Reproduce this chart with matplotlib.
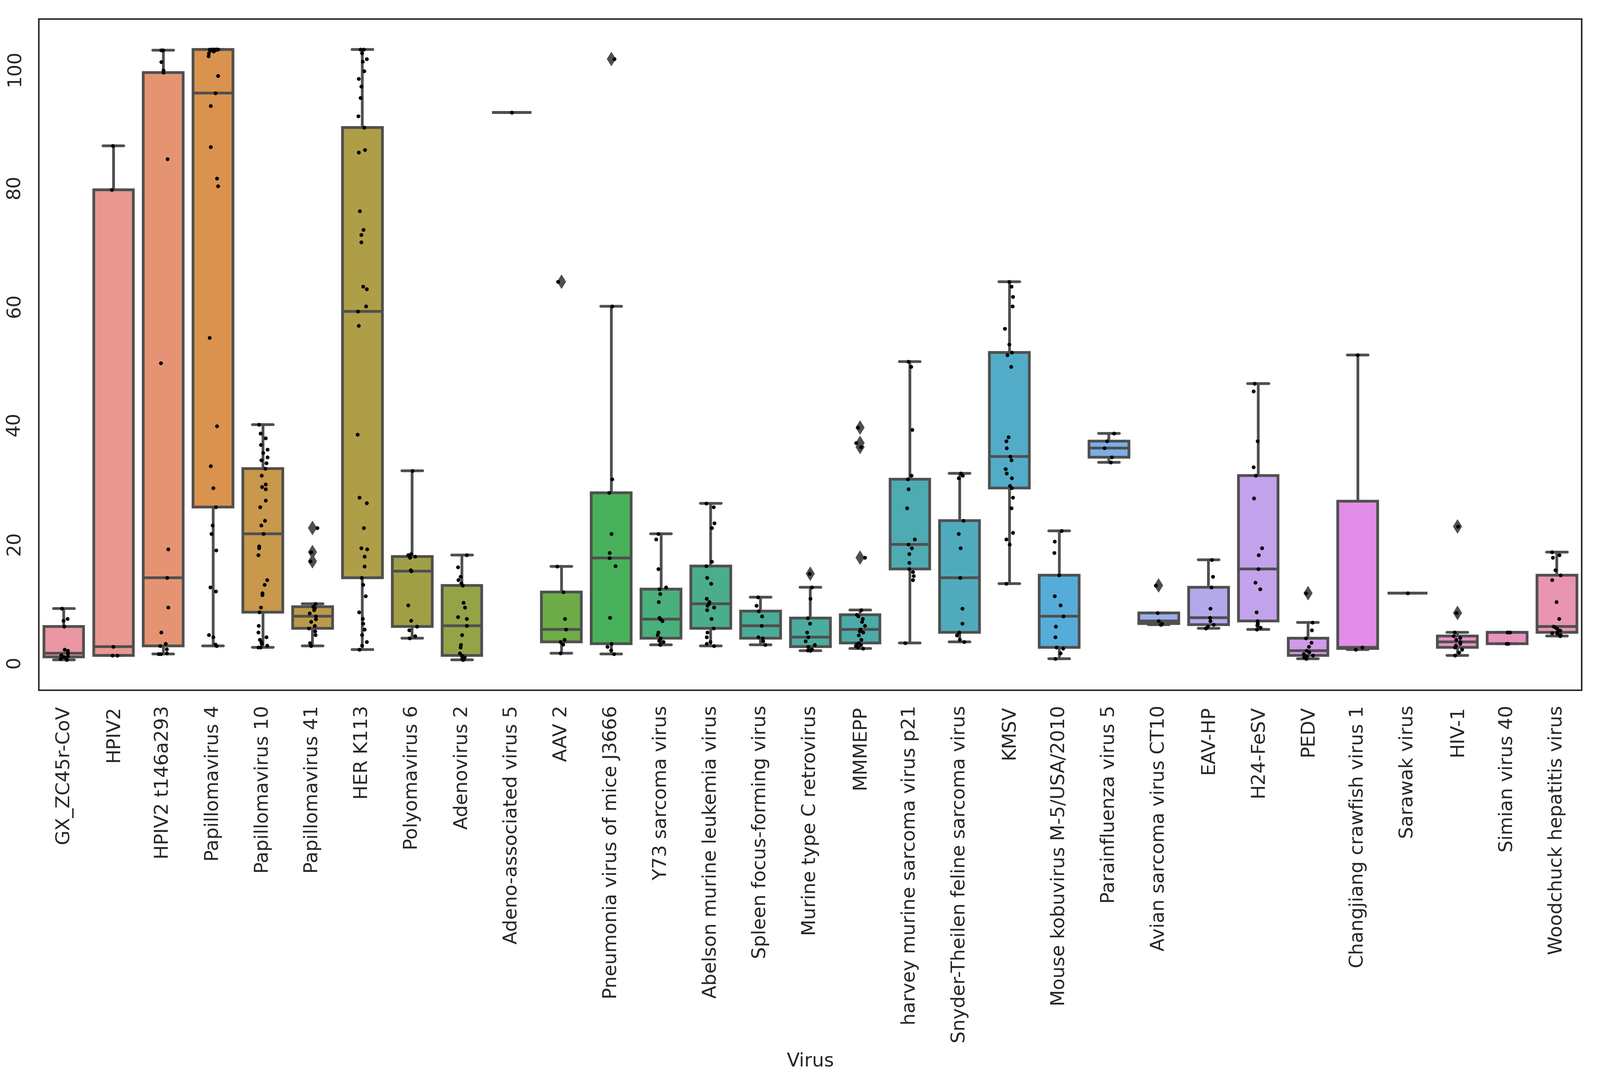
import numpy as np
import pandas as pd
import matplotlib
matplotlib.use("Agg")
import matplotlib.pyplot as plt
import seaborn as sns

# virus names in plotting order
viruses = ["GX_ZC45r-CoV", "HPIV2", "HPIV2 t146a293", "Papillomavirus 4",
           "Papillomavirus 10", "Papillomavirus 41", "HER K113", "Polyomavirus 6",
           "Adenovirus 2", "Adeno-associated virus 5", "AAV 2",
           "Pneumonia virus of mice J3666", "Y73 sarcoma virus",
           "Abelson murine leukemia virus", "Spleen focus-forming virus",
           "Murine type C retrovirus", "MMMEPP", "harvey murine sarcoma virus p21",
           "Snyder-Theilen feline sarcoma virus", "KMSV",
           "Mouse kobuvirus M-5/USA/2010", "Parainfluenza virus 5",
           "Avian sarcoma virus CT10", "EAV-HP", "H24-FeSV", "PEDV",
           "Changjiang crawfish virus 1", "Sarawak virus", "HIV-1",
           "Simian virus 40", "Woodchuck hepatitis virus"]

# values, one list per virus
gx_zc45r = [0.4, 0.6, 0.8, 0.9, 1.0, 1.2, 1.5, 1.9, 2.1, 6.0, 7.0, 7.3, 9.0]
hpiv2 = [1.15, 1.15, 2.6, 79.5, 86.9]
hpiv2_t146 = [1.4, 1.4, 1.5, 2.2, 2.7, 3.1, 5.0, 9.2, 14.2, 19.0, 50.3, 84.7,
              99.2, 99.6, 101.0, 103.0, 103.0]
papilloma4 = [2.7, 3.0, 4.2, 4.6, 11.9, 12.6, 18.8, 21.6, 23.0, 26.1,
              29.3, 33.0, 39.7, 54.6, 80.1, 81.4, 86.7, 93.6, 95.8,
              98.7, 102.0, 102.5, 102.8, 103.0, 103.0, 103.0, 103.1, 103.1,
              103.1, 103.1, 103.1, 103.1, 103.1, 103.1, 103.1, 103.1, 103.1]
papilloma10 = [2.5, 2.5, 2.8, 3.1, 3.4, 3.8, 4.2, 5.0, 6.1, 8.4,
               9.2, 11.3, 11.6, 13.0, 13.8, 18.0, 19.2, 19.5, 21.6,
               23.0, 23.8, 26.1, 27.2, 29.1, 29.5, 29.9, 31.4, 32.6,
               33.5, 34.0, 34.5, 35.2, 35.8, 36.6, 37.7, 38.5, 40.0]
papilloma41 = [2.7, 3.2, 4.6, 5.2, 5.7, 6.1, 6.8, 7.2, 7.7, 8.2, 8.8, 9.1,
               9.3, 9.8, 17.0, 18.5, 22.6]
her_k113 = [2.1, 2.8, 3.4, 4.6, 5.5, 6.5, 7.3, 8.4, 11.1, 13.0, 14.2,
            16.1, 17.8, 19.0, 19.2, 22.6, 26.8, 27.7, 38.3, 56.6, 59.0,
            59.9, 62.8, 63.2, 70.7, 71.9, 72.8, 75.9, 85.8, 86.2, 90.0,
            91.9, 95.0, 96.9, 98.2, 99.5, 101.1, 101.5, 102.5, 103.1, 103.1]
polyoma6 = [4.0, 4.4, 5.4, 6.0, 7.0, 9.6, 15.3, 15.5, 17.6, 17.8, 18.0, 18.2, 32.2]
adeno2 = [0.4, 0.5, 0.6, 0.8, 1.0, 1.15, 1.5, 2.5, 2.9, 4.6, 6.1, 7.3, 7.6,
          9.2, 10.0, 12.9, 13.3, 13.8, 14.4, 16.0, 18.0]
aav5 = [92.5]
aav2 = [1.5, 3.0, 3.4, 3.8, 5.5, 7.3, 11.8, 16.1, 64.0]
pvm_j3666 = [1.4, 2.0, 2.6, 3.1, 7.5, 16.2, 17.5, 18.4, 21.6, 28.5, 30.8, 59.9, 101.5]
y73 = [2.9, 3.0, 3.4, 3.6, 4.0, 4.6, 5.0, 6.9, 7.2, 7.5, 10.1, 11.5, 12.3,
       12.6, 15.7, 20.7, 21.6]
abelson = [2.7, 3.1, 3.4, 4.2, 5.0, 5.7, 7.3, 8.8, 9.2, 9.5, 9.8, 10.1, 10.7,
           13.2, 14.2, 16.2, 16.9, 22.6, 23.4, 26.1, 26.7]
sffv = [2.9, 3.5, 4.0, 4.2, 6.1, 7.7, 8.6, 9.5, 10.9]
murine_c = [1.9, 2.0, 2.2, 2.6, 2.9, 3.5, 4.2, 5.0, 6.5, 7.4, 10.7, 12.6, 14.9]
mmmepp = [2.3, 2.5, 2.7, 2.9, 3.0, 3.2, 3.8, 4.5, 5.0, 5.2, 5.5, 6.1, 6.8,
          7.3, 7.7, 8.0, 8.8, 17.6, 36.2, 36.9, 39.5]
harvey = [3.2, 13.8, 14.5, 15.2, 15.7, 16.7, 18.2, 19.2, 19.8, 20.7, 25.9,
          29.1, 30.8, 31.4, 39.1, 49.7, 50.6]
snyder = [3.4, 3.8, 4.5, 5.0, 6.5, 9.0, 14.2, 19.2, 21.6, 23.8, 31.0, 31.4, 31.8]
kmsv = [13.2, 19.8, 20.7, 21.8, 25.9, 27.7, 29.3, 29.7, 31.0, 31.8, 32.5,
        34.0, 34.6, 36.0, 37.2, 37.9, 49.7, 51.7, 52.1, 53.5, 56.1, 59.9,
        61.5, 63.2, 64.0]
kobuvirus = [0.6, 1.5, 2.3, 2.5, 4.2, 6.0, 7.7, 9.6, 11.1, 14.6, 18.4, 20.3, 22.1]
piv5 = [33.6, 34.5, 36.0, 37.2, 38.5]
avian_ct10 = [6.3, 6.5, 6.9, 8.3, 12.9]
eav_hp = [5.7, 6.0, 6.3, 6.9, 7.5, 9.0, 12.6, 14.4, 17.2]
h24_fesv = [5.5, 5.8, 6.2, 6.5, 6.9, 8.4, 12.3, 13.4, 15.7, 18.0, 19.2,
            27.6, 31.4, 32.8, 37.2, 45.6, 46.9]
pedv = [0.6, 0.8, 1.0, 1.15, 1.4, 1.7, 1.9, 2.6, 3.3, 4.0, 5.4, 6.7, 11.6]
changjiang = [2.1, 2.5, 51.7]
sarawak = [11.6]
hiv1 = [1.15, 1.6, 2.1, 2.5, 2.8, 3.1, 3.4, 3.8, 4.1, 4.4, 5.0, 8.3, 22.8]
sv40 = [3.1, 3.1, 5.0, 5.0, 5.0]
woodchuck = [4.4, 4.6, 4.8, 4.9, 5.0, 5.3, 5.6, 5.8, 6.0, 7.3, 10.1, 13.8,
             14.6, 15.5, 17.6, 18.0, 18.5]

values = [gx_zc45r, hpiv2, hpiv2_t146, papilloma4, papilloma10, papilloma41,
          her_k113, polyoma6, adeno2, aav5, aav2, pvm_j3666, y73, abelson,
          sffv, murine_c, mmmepp, harvey, snyder, kmsv, kobuvirus, piv5,
          avian_ct10, eav_hp, h24_fesv, pedv, changjiang, sarawak, hiv1,
          sv40, woodchuck]

df = pd.DataFrame({"Virus": [v for v, vals in zip(viruses, values) for _ in vals],
                   "value": [x for vals in values for x in vals]})

sns.set_style("white")
plt.rcParams['font.family'] = ['DejaVu Sans']
text_col = "#262626"
gray = "#4f4f4f"
lw = 1.8

pal = [sns.desaturate(c, 0.75) for c in sns.husl_palette(len(viruses), l=.7)]

fig = plt.figure(figsize=(14.56, 9.89), dpi=300)
ax = fig.add_axes([0.0243, 0.365, 0.9643, 0.6175])

bp = ax.boxplot(values, positions=np.arange(len(viruses)), widths=0.8,
                patch_artist=True, whis=1.5, capwidths=0.42,
                boxprops=dict(edgecolor=gray, linewidth=lw),
                whiskerprops=dict(color=gray, linewidth=lw),
                capprops=dict(color=gray, linewidth=lw),
                medianprops=dict(color=gray, linewidth=lw),
                flierprops=dict(marker="d", markerfacecolor=gray,
                                markeredgecolor=gray, markersize=5.5))
for patch, c in zip(bp["boxes"], pal):
    patch.set_facecolor(c)

sns.stripplot(data=df, x="Virus", y="value", order=viruses, color="black",
              size=2.5, jitter=True, ax=ax, zorder=3)

ax.set_xlim(-0.5, len(viruses) - 0.5)
ax.set_xticks(np.arange(len(viruses)))
ax.set_xticklabels(viruses, rotation=90, fontsize=12.4, color=text_col)
ax.set_yticks([0, 20, 40, 60, 80, 100])
ax.set_yticklabels(["0", "20", "40", "60", "80", "100"], rotation=90,
                   va="center", fontsize=12.4, color=text_col)
ax.tick_params(axis="both", length=0, pad=10)
ax.set_xlabel("Virus", fontsize=12.4, color=text_col, labelpad=6)
ax.set_ylabel("")
for s in ax.spines.values():
    s.set_color(text_col)
    s.set_linewidth(1.0)
    s.set_visible(True)

fig.savefig("out.png", dpi=300)
